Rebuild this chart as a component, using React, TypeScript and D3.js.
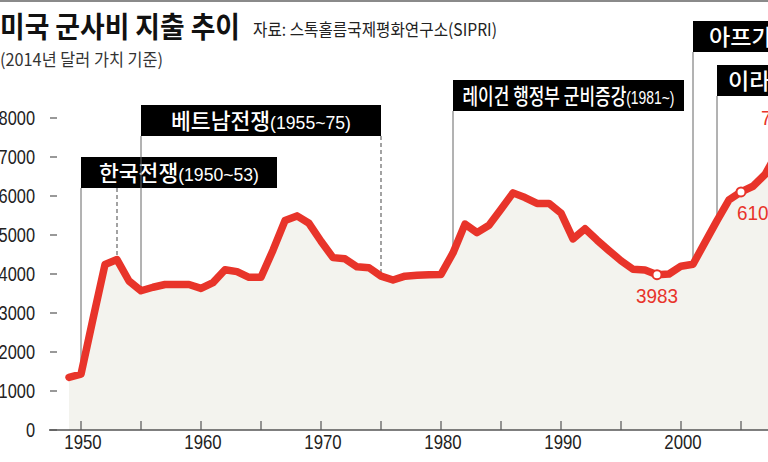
import React from "react";
import * as d3 from "d3";

// ---- data ----
const firstYear = 1949;
const spending = [
  1350, 1430, 2850, 4245, 4370, 3820, 3570, 3660, 3730, 3730, 3730,
  3630, 3780, 4110, 4060, 3915, 3915, 4610, 5370, 5490, 5300,
  4840, 4420, 4390, 4185, 4160, 3945, 3845, 3945, 3965, 3980,
  3990, 4540, 5280, 5060, 5250, 5660, 6080, 5960, 5810, 5810,
  5560, 4900, 5160, 4870, 4600, 4340, 4120, 4100, 3983, 4000,
  4200, 4250, 4810, 5370, 5900, 6104, 6250, 6550, 7100, 7500, 7680,
];
const yTicks = [0, 1000, 2000, 3000, 4000, 5000, 6000, 7000, 8000];
const xTickYears = [1950, 1955, 1960, 1965, 1970, 1975, 1980, 1985, 1990, 1995, 2000, 2005, 2010];
const xLabelYears = [1950, 1960, 1970, 1980, 1990, 2000];
const markedYears = [1998, 2005];
const peakYear = 2010;

const eventLabels = ["한국전쟁", "베트남전쟁", "레이건 행정부 군비증강", "아프가니스탄 전쟁", "이라크 전쟁"];
const eventPeriods = ["(1950~53)", "(1955~75)", "(1981~)", "(2001~)", "(2003~)"];
const eventStarts = [1950, 1955, 1981, 2001, 2003];
const eventEnds: (number | null)[] = [1953, 1975, null, null, null];

const title = "미국 군사비 지출 추이";
const source = "자료: 스톡홀름국제평화연구소(SIPRI)";
const subtitle = "(2014년 달러 가치 기준)";

// ---- layout / style ----
const W = 768;
const H = 462;
const KR = "'Noto Sans CJK KR', 'Noto Sans', sans-serif";
const NUM = "'Liberation Sans', Arial, sans-serif";
const RED = "#e8342a";
const boxTops = [157, 105, 80, 21, 65];
const boxWidths = [196, 240, 231, 220, 200];
const boxTextLens: (number | null)[] = [160, 180, 212, null, null];
const BOX_H = 31;

function NumText(props: {
  x: number;
  y: number;
  size: number;
  anchor?: string;
  fill?: string;
  sx?: number;
  children: React.ReactNode;
}) {
  const { x, y, size, anchor = "start", fill = "#222", sx = 0.84, children } = props;
  return (
    <text
      transform={`translate(${x},${y}) scale(${sx},1)`}
      textAnchor={anchor}
      fontFamily={NUM}
      fontSize={size}
      fill={fill}
    >
      {children}
    </text>
  );
}

export default function App() {
  const data = spending.map((v, i) => ({ year: firstYear + i, value: v }));
  const byYear = new Map(data.map((d) => [d.year, d.value]));
  const x = d3.scaleLinear().domain([1950, 2000]).range([81, 681]);
  const y = d3.scaleLinear().domain([0, 8000]).range([430, 118]);

  const area = d3
    .area<{ year: number; value: number }>()
    .x((d) => x(d.year))
    .y0(y(0))
    .y1((d) => y(d.value));
  const line = d3
    .line<{ year: number; value: number }>()
    .x((d) => x(d.year))
    .y((d) => y(d.value));

  return (
    <svg
      width={W}
      height={H}
      viewBox={`0 0 ${W} ${H}`}
      style={{ position: "absolute", left: 0, top: 0, background: "#fff" }}
    >
      <rect x={0} y={0} width={W} height={H} fill="#fff" />
      <line x1={0} x2={W} y1={1} y2={1} stroke="#8a8a8a" strokeWidth={2} />

      {/* titles */}
      <text x={0} y={38} fontFamily={KR} fontWeight={700} fontSize={29} fill="#111" textLength={240} lengthAdjust="spacingAndGlyphs">
        {title}
      </text>
      <text x={253} y={36} fontFamily={KR} fontSize={17} fill="#222" textLength={244} lengthAdjust="spacingAndGlyphs">
        {source}
      </text>
      <text x={0} y={66} fontFamily={KR} fontSize={17} fill="#333" textLength={163} lengthAdjust="spacingAndGlyphs">
        {subtitle}
      </text>

      {/* area + axis */}
      <path d={area(data) || ""} fill="#f3f3ee" />

      {yTicks.map((t) => (
        <g key={t}>
          <line x1={50} x2={57} y1={y(t)} y2={y(t)} stroke="#555" strokeWidth={1.2} />
          <NumText x={35} y={y(t) + 7} size={19.5} anchor="end">
            {t}
          </NumText>
        </g>
      ))}

      <line x1={49} x2={W} y1={y(0)} y2={y(0)} stroke="#555" strokeWidth={1.5} />
      {xTickYears.map((t) => (
        <line key={t} x1={x(t)} x2={x(t)} y1={y(0) - 9} y2={y(0)} stroke="#555" strokeWidth={1.2} />
      ))}
      {xLabelYears.map((t) => (
        <NumText key={t} x={x(t) + 2} y={449} size={20} anchor="middle">
          {t}
        </NumText>
      ))}

      {/* event annotations */}
      {eventLabels.map((lab, i) => {
        const sx = x(eventStarts[i]);
        const top = boxTops[i];
        const bottom = top + BOX_H;
        const sv = byYear.get(eventStarts[i]) || 0;
        const end = eventEnds[i];
        const tl = boxTextLens[i];
        return (
          <g key={lab}>
            <line x1={sx} x2={sx} y1={bottom} y2={y(sv)} stroke="#666" strokeWidth={1} />
            {end !== null && (
              <line
                x1={x(end)}
                x2={x(end)}
                y1={bottom}
                y2={y(byYear.get(end) || 0) - 4}
                stroke="#666"
                strokeWidth={1.2}
                strokeDasharray="4,3"
              />
            )}
            <rect x={sx} y={top} width={boxWidths[i]} height={BOX_H} fill="#000" />
            {tl !== null ? (
              <text
                x={sx + boxWidths[i] / 2}
                y={top + 24}
                textAnchor="middle"
                fill="#fff"
                textLength={tl}
                lengthAdjust="spacingAndGlyphs"
              >
                <tspan fontFamily={KR} fontSize={22} fontWeight={500}>{lab}</tspan>
                <tspan fontFamily={NUM} fontSize={18}>{eventPeriods[i]}</tspan>
              </text>
            ) : (
              <text
                transform={`translate(${sx + (i === 3 ? 16 : 11)},${top + 24}) scale(1.05,1)`}
                fill="#fff"
              >
                <tspan fontFamily={KR} fontSize={22} fontWeight={500}>{lab}</tspan>
                <tspan fontFamily={NUM} fontSize={18}>{eventPeriods[i]}</tspan>
              </text>
            )}
          </g>
        );
      })}

      {/* line */}
      <path
        d={line(data) || ""}
        fill="none"
        stroke={RED}
        strokeWidth={7.5}
        strokeLinejoin="round"
        strokeLinecap="round"
      />

      {markedYears.map((yr) => {
        const v = byYear.get(yr) || 0;
        return (
          <g key={yr}>
            <circle cx={x(yr)} cy={y(v)} r={4.5} fill="#fff" stroke={RED} strokeWidth={2} />
            <NumText
              x={yr === 1998 ? x(yr) : x(yr) - 4}
              y={y(v) + 28}
              anchor={yr === 1998 ? "middle" : "start"}
              size={21}
              sx={0.9}
              fill={RED}
            >
              {v}
            </NumText>
          </g>
        );
      })}
      <NumText x={x(peakYear) - 40} y={y(byYear.get(peakYear) || 0) - 5} size={21} sx={0.9} fill={RED}>
        {byYear.get(peakYear)}
      </NumText>
    </svg>
  );
}
